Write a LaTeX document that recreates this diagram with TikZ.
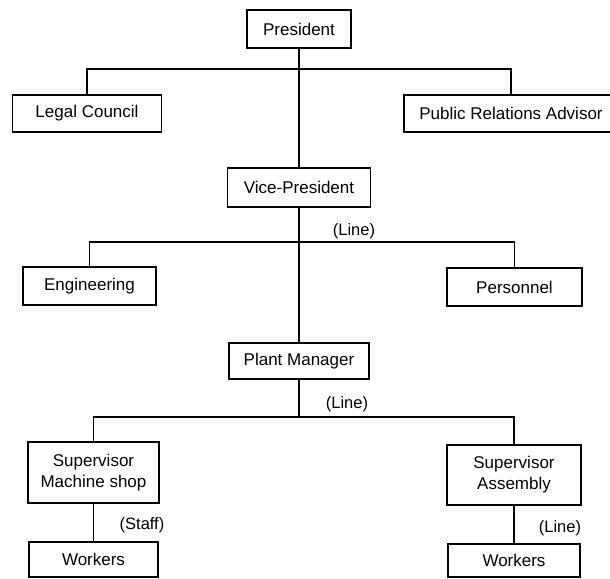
\documentclass[tikz,border=0pt]{standalone}
\usepackage{fontspec}
\setmainfont{Liberation Sans}
\begin{document}
\begin{tikzpicture}[x=1pt,y=-1pt,
  box/.style={draw, line width=1.8pt, inner sep=0pt, align=center,
    font=\fontsize{17}{21}\selectfont},
  conn/.style={line width=1.6pt},
  lbl/.style={inner sep=0pt, font=\fontsize{16.5}{19}\selectfont}]
\useasboundingbox (0,0) rectangle (610,578);
\node[box, minimum width=104, minimum height=38] (pres) at (299,29) {President};
\node[box, minimum width=149, minimum height=37] (legal) at (87,113.5) {Legal Council};
\node[box, minimum width=214, minimum height=37] (pr) at (511,113.5) {Public Relations Advisor};
\node[box, minimum width=143, minimum height=39] (vp) at (299,187.5) {Vice-President};
\node[box, minimum width=133, minimum height=38] (eng) at (89.5,286) {Engineering};
\node[box, minimum width=135, minimum height=38] (pers) at (514.5,287) {Personnel};
\node[box, minimum width=140, minimum height=36] (pm) at (299,361) {Plant Manager};
\node[box, minimum width=131, minimum height=61] (supm) at (93.5,472.5) {Supervisor\\Machine shop};
\node[box, minimum width=134, minimum height=60] (supa) at (514,475) {Supervisor\\Assembly};
\node[box, minimum width=129, minimum height=35] (wl) at (93.5,559.5) {Workers};
\node[box, minimum width=132, minimum height=33] (wr) at (514,560.5) {Workers};
\coordinate (b1) at (299,69);
\coordinate (b2) at (299,242);
\coordinate (b3) at (299,417);
\draw[conn] (pres.south) -- (vp.north);
\draw[conn] (vp.south) -- (pm.north);
\draw[conn] (pm.south) -- (b3);
\draw[conn] (legal.north) |- (b1) -| (pr.north);
\draw[conn] (eng.north) |- (b2) -| (pers.north);
\draw[conn] (supm.north) |- (b3) -| (supa.north);
\draw[conn] (supm.south) -- (wl.north);
\draw[conn] (supa.south) -- (wr.north);
\node[lbl] (l1) at (354,231) {(Line)};
\node[lbl] (l2) at (347,404) {(Line)};
\node[lbl] (l3) at (142,525) {(Staff)};
\node[lbl] (l4) at (560,528) {(Line)};
\end{tikzpicture}
\end{document}
